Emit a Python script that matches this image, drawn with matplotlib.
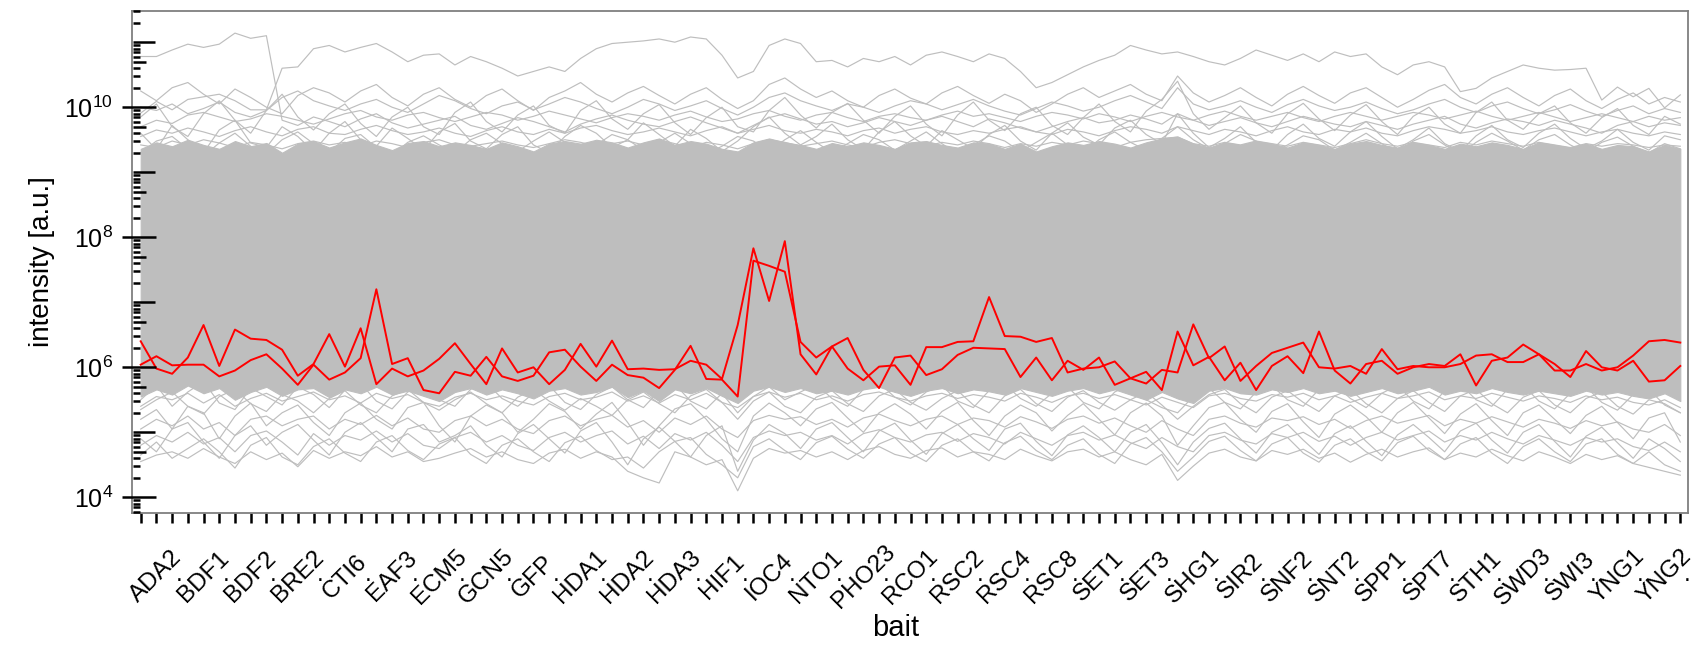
import matplotlib
matplotlib.use("Agg")
import matplotlib.pyplot as plt
import numpy as np

plt.rcParams["font.family"] = ["Liberation Sans", "DejaVu Sans"]
plt.rcParams["mathtext.fontset"] = "custom"
plt.rcParams["mathtext.rm"] = "Liberation Sans"

# bait names, one per group of three replicate columns
baits = ["ADA2", "BDF1", "BDF2", "BRE2", "CTI6", "EAF3", "ECM5", "GCN5", "GFP",
         "HDA1", "HDA2", "HDA3", "HIF1", "IOC4", "NTO1", "PHO23", "RCO1",
         "RSC2", "RSC4", "RSC8", "SET1", "SET3", "SHG1", "SIR2", "SNF2",
         "SNT2", "SPP1", "SPT7", "STH1", "SWD3", "SWI3", "YNG1", "YNG2"]

# all values are log10(intensity), one per bait column (99 columns)
red_a_log = [
    6.40, 5.98, 5.90, 6.15, 6.65, 6.02, 6.58, 6.44, 6.42, 6.27, 5.87,
    6.05, 6.51, 6.01, 6.60, 5.74, 5.98, 5.86, 5.95, 6.13, 6.37, 6.05,
    5.74, 6.29, 5.92, 6.00, 5.74, 5.96, 6.36, 6.01, 6.41, 5.97, 5.98,
    5.96, 5.97, 6.10, 6.04, 5.82, 6.65, 7.83, 7.02, 7.94, 6.20, 5.89,
    6.32, 5.98, 5.80, 6.01, 6.03, 5.73, 6.31, 6.31, 6.39, 6.40, 7.08,
    6.48, 6.47, 6.39, 6.45, 5.92, 5.98, 6.00, 6.09, 5.83, 5.93, 5.65,
    6.55, 6.03, 6.16, 5.80, 6.07, 5.65, 6.02, 6.17, 5.91, 6.55, 5.95,
    5.75, 6.05, 6.10, 5.90, 6.00, 6.05, 6.02, 6.20, 5.72, 6.10, 6.15,
    6.35, 6.20, 6.05, 5.85, 6.25, 6.00, 5.95, 6.10, 5.78, 5.80, 6.02]
red_b_log = [
    6.04, 6.17, 6.03, 6.04, 6.04, 5.86, 5.95, 6.11, 6.20, 5.98, 5.73,
    6.04, 5.81, 5.92, 6.14, 7.20, 6.05, 6.14, 5.65, 5.60, 5.93, 5.87,
    6.16, 5.86, 5.79, 5.87, 6.23, 6.27, 6.01, 5.79, 6.04, 5.88, 5.84,
    5.68, 5.96, 6.33, 5.82, 5.81, 5.55, 7.64, 7.56, 7.47, 6.39, 6.15,
    6.32, 6.45, 5.96, 5.68, 6.15, 6.18, 5.88, 5.97, 6.19, 6.30, 6.29,
    6.28, 5.85, 6.15, 5.80, 6.10, 5.96, 6.15, 5.73, 5.83, 5.75, 5.96,
    5.92, 6.66, 6.14, 6.32, 5.79, 6.02, 6.22, 6.30, 6.38, 6.00, 5.98,
    6.02, 5.90, 6.28, 5.97, 6.02, 6.00, 6.00, 6.05, 6.18, 6.20, 6.08,
    6.08, 6.20, 5.95, 5.95, 6.05, 5.95, 6.00, 6.18, 6.40, 6.42, 6.38]

# envelope of the densely packed bulk of proteins
bulk_hi_log = [
    9.36, 9.46, 9.40, 9.50, 9.42, 9.36, 9.48, 9.40, 9.45, 9.30, 9.44,
    9.48, 9.38, 9.46, 9.52, 9.42, 9.34, 9.45, 9.48, 9.40, 9.46, 9.42,
    9.36, 9.46, 9.40, 9.32, 9.44, 9.48, 9.44, 9.50, 9.46, 9.38, 9.46,
    9.52, 9.42, 9.48, 9.44, 9.36, 9.32, 9.46, 9.52, 9.46, 9.42, 9.36,
    9.45, 9.40, 9.46, 9.42, 9.36, 9.46, 9.48, 9.42, 9.38, 9.46, 9.44,
    9.36, 9.44, 9.32, 9.40, 9.46, 9.42, 9.48, 9.44, 9.38, 9.46, 9.52,
    9.55, 9.44, 9.38, 9.46, 9.42, 9.48, 9.44, 9.38, 9.46, 9.42, 9.36,
    9.44, 9.48, 9.42, 9.38, 9.46, 9.42, 9.36, 9.44, 9.40, 9.46, 9.42,
    9.36, 9.46, 9.42, 9.38, 9.44, 9.36, 9.42, 9.40, 9.32, 9.42, 9.36]
bulk_lo_log = [
    5.55, 5.66, 5.58, 5.72, 5.60, 5.68, 5.50, 5.62, 5.70, 5.56, 5.66,
    5.68, 5.54, 5.66, 5.60, 5.70, 5.58, 5.64, 5.56, 5.48, 5.62, 5.68,
    5.58, 5.66, 5.60, 5.52, 5.64, 5.68, 5.58, 5.62, 5.70, 5.54, 5.64,
    5.48, 5.66, 5.60, 5.68, 5.56, 5.45, 5.64, 5.70, 5.62, 5.68, 5.60,
    5.64, 5.58, 5.66, 5.70, 5.62, 5.56, 5.64, 5.68, 5.60, 5.66, 5.63,
    5.58, 5.68, 5.62, 5.56, 5.64, 5.68, 5.60, 5.66, 5.58, 5.50, 5.62,
    5.52, 5.45, 5.64, 5.68, 5.60, 5.58, 5.66, 5.62, 5.68, 5.60, 5.64,
    5.56, 5.62, 5.68, 5.60, 5.64, 5.70, 5.58, 5.64, 5.60, 5.68, 5.62,
    5.58, 5.64, 5.60, 5.56, 5.64, 5.58, 5.62, 5.56, 5.52, 5.60, 5.48]

# individual proteins above the bulk
top_a_log = [
    10.78, 10.78, 10.88, 10.97, 10.92, 10.97, 11.14, 11.06, 11.10, 9.80, 9.72,
    9.85, 9.78, 9.70, 9.82, 9.90, 9.76, 9.68, 9.74, 9.80, 9.86, 9.72,
    9.66, 9.75, 9.84, 9.78, 9.70, 9.62, 9.74, 9.82, 9.88, 9.80, 9.74,
    9.70, 9.78, 9.85, 9.76, 9.68, 9.60, 9.72, 9.84, 9.90, 9.82, 9.74,
    9.78, 9.70, 9.76, 9.84, 9.78, 9.72, 9.80, 9.86, 9.78, 9.70, 9.82,
    9.76, 9.68, 9.62, 9.70, 9.78, 9.84, 9.76, 9.80, 9.88, 9.82, 9.74,
    9.90, 9.80, 9.72, 9.78, 9.84, 9.76, 9.70, 9.78, 9.86, 9.80, 9.74,
    9.70, 9.78, 9.72, 9.66, 9.74, 9.80, 9.86, 9.74, 9.68, 9.76, 9.82,
    9.78, 9.72, 9.80, 9.74, 9.68, 9.60, 9.72, 9.78, 9.70, 9.76, 9.72]
top_b_log = [
    9.91, 10.09, 9.96, 10.12, 10.16, 10.20, 10.10, 9.96, 9.96, 10.60, 10.62,
    10.90, 10.95, 10.85, 10.92, 10.98, 10.85, 10.70, 10.80, 10.82, 10.65, 10.78,
    10.70, 10.60, 10.48, 10.55, 10.62, 10.55, 10.75, 10.90, 10.98, 11.00, 11.02,
    11.05, 11.00, 11.08, 11.05, 10.80, 10.45, 10.55, 10.95, 11.05, 10.98, 10.70,
    10.72, 10.62, 10.75, 10.70, 10.78, 10.65, 10.80, 10.85, 10.78, 10.70, 10.82,
    10.75, 10.55, 10.30, 10.38, 10.50, 10.62, 10.72, 10.80, 10.95, 10.88, 10.82,
    10.85, 10.78, 10.70, 10.65, 10.75, 10.88, 10.80, 10.72, 10.82, 10.70, 10.85,
    10.78, 10.82, 10.62, 10.50, 10.65, 10.70, 10.62, 10.24, 10.29, 10.45, 10.55,
    10.65, 10.60, 10.57, 10.58, 10.60, 10.11, 10.31, 10.16, 10.29, 9.99, 10.19]
high_1_log = [
    10.00, 9.95, 10.05, 9.90, 9.98, 10.08, 9.92, 9.85, 9.95, 10.15, 10.25,
    10.10, 10.02, 9.95, 10.05, 10.12, 10.00, 9.92, 10.05, 10.18, 10.10, 9.98,
    9.90, 10.02, 10.08, 9.96, 10.05, 10.15, 10.08, 9.98, 9.90, 10.00, 10.12,
    10.05, 9.95, 10.02, 10.10, 9.98, 9.88, 10.00, 10.15, 10.22, 10.10, 10.02,
    9.95, 10.05, 10.00, 9.92, 10.02, 10.10, 10.05, 9.96, 10.04, 10.12, 10.02,
    9.94, 9.88, 9.98, 10.08, 10.02, 9.94, 10.00, 10.10, 10.18, 10.08, 9.98,
    10.30, 10.05, 9.96, 10.02, 10.10, 10.00, 9.92, 10.04, 10.12, 10.02, 9.95,
    10.00, 10.08, 9.98, 9.90, 9.96, 10.05, 10.12, 10.00, 9.92, 10.02, 10.08,
    9.98, 9.90, 9.96, 10.04, 9.94, 9.86, 9.95, 10.02, 9.90, 9.98, 9.92]
high_2_log = [
    9.70, 9.80, 9.75, 9.88, 9.92, 9.85, 9.78, 9.82, 9.90, 9.86, 9.80,
    9.74, 9.82, 9.90, 9.95, 9.85, 9.80, 9.88, 9.92, 9.84, 9.78, 9.85,
    9.92, 9.88, 9.80, 9.86, 9.94, 9.88, 9.82, 9.76, 9.84, 9.90, 9.86,
    9.80, 9.88, 9.94, 9.85, 9.78, 9.82, 9.90, 9.95, 9.86, 9.80, 9.88,
    9.92, 9.84, 9.78, 9.86, 9.90, 9.84, 9.80, 9.88, 9.94, 9.86, 9.90,
    9.84, 9.78, 9.86, 9.92, 9.88, 9.82, 9.90, 9.85, 9.78, 9.86, 9.92,
    9.85, 9.80, 9.88, 9.94, 9.86, 9.80, 9.86, 9.92, 9.84, 9.78, 9.86,
    9.92, 9.86, 9.80, 9.86, 9.92, 9.88, 9.82, 9.88, 9.94, 9.86, 9.80,
    9.86, 9.92, 9.85, 9.78, 9.84, 9.90, 9.84, 9.78, 9.86, 9.80, 9.84]
high_3_log = [
    9.55, 9.65, 9.60, 9.68, 9.62, 9.55, 9.64, 9.70, 9.62, 9.56, 9.66,
    9.70, 9.60, 9.58, 9.66, 9.72, 9.64, 9.58, 9.62, 9.68, 9.60, 9.55,
    9.64, 9.70, 9.62, 9.58, 9.66, 9.60, 9.68, 9.72, 9.64, 9.58, 9.62,
    9.68, 9.62, 9.56, 9.64, 9.70, 9.60, 9.66, 9.72, 9.64, 9.60, 9.66,
    9.62, 9.56, 9.64, 9.68, 9.60, 9.66, 9.70, 9.62, 9.58, 9.64, 9.60,
    9.66, 9.70, 9.62, 9.58, 9.66, 9.62, 9.56, 9.64, 9.70, 9.66, 9.60,
    9.70, 9.64, 9.58, 9.66, 9.62, 9.56, 9.64, 9.70, 9.62, 9.58, 9.66,
    9.62, 9.68, 9.60, 9.56, 9.64, 9.70, 9.66, 9.60, 9.64, 9.70, 9.62,
    9.58, 9.64, 9.68, 9.62, 9.56, 9.62, 9.66, 9.60, 9.56, 9.62, 9.58]
high_4_log = [
    9.42, 9.38, 9.48, 9.42, 9.50, 9.45, 9.38, 9.46, 9.42, 9.36, 9.44,
    9.48, 9.42, 9.46, 9.40, 9.48, 9.44, 9.38, 9.46, 9.50, 9.42, 9.40,
    9.44, 9.48, 9.42, 9.38, 9.44, 9.50, 9.46, 9.40, 9.44, 9.48, 9.42,
    9.50, 9.44, 9.38, 9.46, 9.42, 9.36, 9.44, 9.50, 9.46, 9.40, 9.44,
    9.48, 9.42, 9.38, 9.46, 9.50, 9.44, 9.40, 9.46, 9.42, 9.48, 9.44,
    9.38, 9.44, 9.40, 9.46, 9.42, 9.48, 9.44, 9.38, 9.46, 9.50, 9.52,
    9.54, 9.44, 9.40, 9.46, 9.42, 9.48, 9.44, 9.40, 9.46, 9.42, 9.38,
    9.44, 9.50, 9.44, 9.40, 9.46, 9.42, 9.38, 9.46, 9.42, 9.48, 9.44,
    9.40, 9.46, 9.42, 9.38, 9.44, 9.40, 9.44, 9.42, 9.38, 9.42, 9.40]
high_5_log = [
    9.60, 9.35, 9.72, 9.50, 9.30, 9.65, 9.80, 9.45, 9.38, 9.70, 9.55,
    9.32, 9.60, 9.78, 9.50, 9.40, 9.68, 9.52, 9.34, 9.62, 9.75, 9.48,
    9.36, 9.58, 9.70, 9.42, 9.30, 9.55, 9.72, 9.60, 9.38, 9.50, 9.76,
    9.58, 9.40, 9.66, 9.52, 9.32, 9.48, 9.70, 9.85, 9.60, 9.42, 9.55,
    9.74, 9.50, 9.35, 9.62, 9.78, 9.56, 9.40, 9.64, 9.50, 9.36, 9.58,
    9.72, 9.48, 9.34, 9.60, 9.76, 9.54, 9.42, 9.68, 9.80, 9.58, 9.44,
    9.90, 9.60, 9.38, 9.52, 9.70, 9.46, 9.34, 9.58, 9.74, 9.52, 9.40,
    9.62, 9.78, 9.55, 9.36, 9.50, 9.68, 9.44, 9.32, 9.56, 9.72, 9.50,
    9.38, 9.60, 9.74, 9.52, 9.36, 9.48, 9.66, 9.46, 9.34, 9.56, 9.50]
high_6_log = [
    9.85, 10.05, 9.70, 9.55, 9.90, 10.10, 9.80, 9.60, 9.95, 10.20, 9.85,
    9.65, 9.90, 10.05, 9.75, 9.55, 9.85, 10.00, 9.70, 9.58, 9.92, 10.08,
    9.78, 9.62, 9.88, 10.02, 9.72, 9.60, 9.95, 10.10, 9.82, 9.66, 9.90,
    10.04, 9.76, 9.58, 9.84, 10.00, 9.70, 9.62, 9.95, 10.15, 9.88, 9.68,
    9.92, 10.06, 9.80, 9.60, 9.86, 10.02, 9.74, 9.56, 9.88, 10.08, 9.80,
    9.64, 9.90, 10.00, 9.72, 9.58, 9.84, 10.05, 9.78, 9.62, 9.94, 10.12,
    10.40, 9.90, 9.66, 9.84, 10.02, 9.76, 9.60, 9.90, 10.06, 9.82, 9.64,
    9.88, 10.04, 9.78, 9.58, 9.86, 10.00, 9.74, 9.60, 9.92, 10.08, 9.80,
    9.66, 9.90, 10.02, 9.76, 9.60, 9.84, 9.98, 9.72, 9.58, 9.86, 9.74]
high_7_log = [
    9.30, 9.48, 9.55, 9.36, 9.25, 9.45, 9.60, 9.40, 9.28, 9.50, 9.62,
    9.44, 9.30, 9.52, 9.58, 9.38, 9.26, 9.46, 9.56, 9.42, 9.30, 9.50,
    9.60, 9.44, 9.32, 9.48, 9.62, 9.46, 9.30, 9.42, 9.58, 9.50, 9.34,
    9.46, 9.60, 9.44, 9.28, 9.40, 9.55, 9.48, 9.32, 9.50, 9.64, 9.46,
    9.30, 9.44, 9.58, 9.50, 9.34, 9.48, 9.62, 9.44, 9.28, 9.42, 9.56,
    9.48, 9.32, 9.46, 9.60, 9.42, 9.30, 9.50, 9.62, 9.46, 9.34, 9.52,
    9.70, 9.50, 9.36, 9.44, 9.58, 9.48, 9.30, 9.42, 9.56, 9.50, 9.34,
    9.46, 9.60, 9.44, 9.30, 9.48, 9.58, 9.42, 9.28, 9.46, 9.60, 9.48,
    9.34, 9.50, 9.58, 9.42, 9.30, 9.46, 9.54, 9.40, 9.30, 9.44, 9.36]
high_8_log = [
    10.25, 10.10, 10.30, 10.38, 10.20, 10.05, 10.28, 10.15, 10.00, 9.90, 10.18,
    10.30, 10.22, 10.08, 10.25, 10.35, 10.15, 10.02, 10.20, 10.30, 10.12, 10.00,
    10.18, 10.28, 10.10, 9.95, 10.15, 10.25, 10.38, 10.20, 10.08, 10.22, 10.32,
    10.18, 10.05, 10.20, 10.30, 10.12, 9.98, 10.10, 10.35, 10.45, 10.28, 10.15,
    10.25, 10.10, 10.00, 10.18, 10.28, 10.14, 10.05, 10.22, 10.32, 10.18, 10.06,
    10.20, 10.10, 9.92, 10.05, 10.20, 10.30, 10.15, 10.25, 10.35, 10.20, 10.10,
    10.48, 10.22, 10.08, 10.18, 10.30, 10.15, 10.02, 10.20, 10.32, 10.18, 10.06,
    10.22, 10.30, 10.15, 10.00, 10.12, 10.26, 10.35, 10.15, 10.05, 10.20, 10.30,
    10.15, 10.02, 10.18, 10.28, 10.10, 9.98, 10.12, 10.22, 10.05, 10.15, 10.08]

# individual proteins below the bulk
low_1_log = [
    5.40, 5.55, 5.50, 5.60, 5.45, 5.58, 5.40, 5.52, 5.60, 5.48, 5.55,
    5.62, 5.50, 5.56, 5.45, 5.60, 5.52, 5.58, 5.46, 5.40, 5.54, 5.60,
    5.50, 5.56, 5.48, 5.42, 5.55, 5.60, 5.50, 5.54, 5.62, 5.48, 5.56,
    5.45, 5.58, 5.50, 5.60, 5.46, 5.38, 5.55, 5.62, 5.54, 5.60, 5.50,
    5.56, 5.48, 5.58, 5.62, 5.54, 5.48, 5.56, 5.60, 5.52, 5.58, 5.54,
    5.48, 5.60, 5.54, 5.46, 5.56, 5.60, 5.52, 5.58, 5.50, 5.42, 5.54,
    5.46, 5.38, 5.56, 5.60, 5.52, 5.48, 5.58, 5.54, 5.60, 5.50, 5.56,
    5.46, 5.54, 5.60, 5.52, 5.56, 5.62, 5.50, 5.56, 5.52, 5.60, 5.54,
    5.48, 5.56, 5.52, 5.46, 5.56, 5.50, 5.54, 5.46, 5.42, 5.50, 5.38]
low_2_log = [
    5.05, 5.20, 5.10, 5.25, 5.05, 5.15, 4.95, 5.20, 5.25, 5.10, 5.20,
    5.25, 5.05, 5.20, 5.12, 5.26, 5.10, 5.22, 5.05, 5.00, 5.18, 5.25,
    5.10, 5.20, 5.05, 4.98, 5.18, 5.25, 5.10, 5.20, 5.26, 5.08, 5.18,
    5.00, 5.22, 5.12, 5.25, 5.05, 4.92, 5.18, 5.26, 5.20, 5.24, 5.12,
    5.20, 5.08, 5.22, 5.28, 5.18, 5.10, 5.20, 5.25, 5.12, 5.22, 5.18,
    5.08, 5.24, 5.16, 5.06, 5.20, 5.25, 5.14, 5.22, 5.10, 5.00, 5.18,
    5.05, 4.95, 5.20, 5.25, 5.14, 5.08, 5.22, 5.18, 5.24, 5.12, 5.20,
    5.06, 5.18, 5.25, 5.14, 5.20, 5.26, 5.10, 5.20, 5.14, 5.24, 5.16,
    5.08, 5.20, 5.14, 5.06, 5.18, 5.10, 5.16, 5.05, 5.00, 5.12, 4.95]
low_3_log = [
    4.80, 4.95, 4.85, 5.00, 4.82, 4.92, 4.70, 4.95, 5.02, 4.85, 4.65,
    4.98, 4.80, 4.95, 4.88, 5.02, 4.85, 4.98, 4.80, 4.75, 4.92, 5.00,
    4.85, 4.95, 4.80, 4.72, 4.92, 5.00, 4.85, 4.95, 5.02, 4.82, 4.94,
    4.75, 4.98, 4.88, 5.00, 4.80, 4.55, 4.92, 5.02, 4.95, 5.00, 4.88,
    4.95, 4.82, 4.98, 5.04, 4.92, 4.85, 4.96, 5.00, 4.86, 4.98, 4.92,
    4.82, 5.00, 4.90, 4.80, 4.95, 5.00, 4.88, 4.96, 4.84, 4.75, 4.92,
    4.78, 4.70, 4.95, 5.00, 4.88, 4.82, 4.98, 4.92, 5.00, 4.86, 4.94,
    4.80, 4.92, 5.00, 4.88, 4.95, 5.02, 4.85, 4.95, 4.88, 5.00, 4.90,
    4.82, 4.95, 4.88, 4.80, 4.92, 4.85, 4.90, 4.78, 4.72, 4.85, 4.70]
low_4_log = [
    4.55, 4.65, 4.70, 4.60, 4.75, 4.62, 4.52, 4.70, 4.58, 4.68, 4.47,
    4.72, 4.60, 4.70, 4.64, 4.78, 4.62, 4.70, 4.55, 4.60, 4.68, 4.75,
    4.62, 4.70, 4.58, 4.52, 4.68, 4.74, 4.60, 4.70, 4.62, 4.40, 4.30,
    4.22, 4.70, 4.62, 4.50, 4.58, 4.10, 4.60, 4.75, 4.68, 4.72, 4.62,
    4.70, 4.58, 4.72, 4.78, 4.66, 4.60, 4.72, 4.76, 4.62, 4.70, 4.66,
    4.58, 4.74, 4.64, 4.56, 4.70, 4.74, 4.62, 4.70, 4.58, 4.50, 4.66,
    4.26, 4.48, 4.68, 4.74, 4.62, 4.56, 4.72, 4.66, 4.74, 4.60, 4.68,
    4.54, 4.66, 4.74, 4.62, 4.70, 4.76, 4.58, 4.68, 4.62, 4.74, 4.64,
    4.56, 4.70, 4.62, 4.52, 4.66, 4.58, 4.64, 4.52, 4.46, 4.40, 4.34]
low_5_log = [
    5.50, 5.72, 5.40, 5.62, 5.78, 5.45, 5.35, 5.68, 5.55, 5.42, 5.70,
    5.58, 5.38, 5.65, 5.75, 5.48, 5.36, 5.62, 5.72, 5.50, 5.40, 5.66,
    5.76, 5.52, 5.40, 5.60, 5.72, 5.46, 5.35, 5.58, 5.70, 5.50, 5.38,
    5.64, 5.74, 5.48, 5.36, 5.60, 5.30, 5.55, 5.70, 5.50, 5.62, 5.74,
    5.52, 5.40, 5.66, 5.76, 5.54, 5.42, 5.62, 5.72, 5.48, 5.38, 5.64,
    5.74, 5.52, 5.40, 5.60, 5.70, 5.46, 5.36, 5.62, 5.74, 5.50, 5.38,
    5.30, 5.55, 5.68, 5.46, 5.36, 5.62, 5.72, 5.50, 5.40, 5.66, 5.74,
    5.52, 5.38, 5.60, 5.72, 5.48, 5.36, 5.64, 5.74, 5.50, 5.40, 5.66,
    5.72, 5.48, 5.36, 5.60, 5.70, 5.46, 5.34, 5.58, 5.66, 5.42, 5.30]
low_6_log = [
    5.20, 5.35, 5.05, 5.40, 5.30, 4.90, 5.25, 5.45, 5.10, 5.30, 5.42,
    5.15, 4.95, 5.30, 5.45, 5.20, 5.05, 5.38, 5.46, 5.10, 4.85, 5.25,
    5.42, 5.30, 5.00, 5.20, 5.44, 5.32, 5.05, 5.28, 5.46, 5.15, 4.80,
    5.10, 5.36, 5.44, 5.20, 4.90, 4.70, 5.25, 5.45, 5.30, 5.10, 5.36,
    5.46, 5.22, 5.00, 5.30, 5.44, 5.28, 5.05, 5.32, 5.46, 5.18, 4.95,
    5.25, 5.42, 5.30, 5.02, 5.26, 5.44, 5.20, 4.96, 5.30, 5.45, 5.25,
    4.80, 5.10, 5.38, 5.46, 5.20, 5.00, 5.32, 5.44, 5.16, 4.92, 5.28,
    5.42, 5.24, 5.00, 5.30, 5.46, 5.22, 4.98, 5.28, 5.44, 5.18, 4.95,
    5.30, 5.42, 5.20, 4.98, 5.26, 5.40, 5.15, 4.90, 5.22, 5.30, 4.85]
low_7_log = [
    4.90, 4.70, 5.05, 5.15, 4.85, 4.60, 4.95, 5.10, 4.80, 5.00, 5.12,
    4.88, 4.65, 5.00, 5.15, 4.92, 4.70, 5.05, 5.12, 4.85, 4.95, 5.10,
    4.80, 4.62, 4.98, 5.12, 4.90, 4.68, 5.02, 5.15, 4.85, 4.50, 4.90,
    5.08, 4.86, 4.62, 4.95, 5.10, 4.40, 4.88, 5.12, 4.98, 4.75, 5.05,
    5.15, 4.92, 4.70, 5.02, 5.14, 4.88, 4.66, 4.98, 5.12, 4.90, 4.72,
    5.05, 5.14, 4.86, 4.64, 4.96, 5.10, 4.92, 4.70, 5.00, 5.12, 4.84,
    4.50, 4.85, 5.06, 5.14, 4.90, 4.68, 5.00, 5.12, 4.88, 4.66, 4.98,
    5.10, 4.86, 4.64, 4.96, 5.12, 4.92, 4.70, 5.02, 5.14, 4.88, 4.68,
    5.00, 5.12, 4.86, 4.62, 4.94, 5.08, 4.84, 4.60, 4.90, 4.75, 4.55]
low_8_log = [
    4.65, 4.85, 4.60, 4.75, 4.90, 4.70, 4.45, 4.80, 4.92, 4.62, 4.50,
    4.78, 4.90, 4.68, 4.55, 4.85, 4.95, 4.72, 4.58, 4.82, 4.92, 4.66,
    4.52, 4.80, 4.90, 4.70, 4.55, 4.84, 4.94, 4.72, 4.58, 4.62, 4.45,
    4.70, 4.86, 4.92, 4.66, 4.50, 4.30, 4.78, 4.90, 4.72, 4.58, 4.84,
    4.94, 4.74, 4.60, 4.82, 4.92, 4.68, 4.55, 4.80, 4.90, 4.70, 4.56,
    4.84, 4.94, 4.72, 4.58, 4.80, 4.90, 4.66, 4.52, 4.82, 4.92, 4.70,
    4.40, 4.62, 4.86, 4.94, 4.72, 4.56, 4.82, 4.92, 4.68, 4.54, 4.80,
    4.90, 4.70, 4.56, 4.84, 4.94, 4.72, 4.58, 4.82, 4.92, 4.68, 4.52,
    4.78, 4.90, 4.70, 4.55, 4.82, 4.90, 4.66, 4.52, 4.70, 4.50, 4.40]
low_9_log = [
    5.35, 5.50, 5.62, 5.40, 5.28, 5.55, 5.66, 5.44, 5.32, 5.58, 5.48,
    5.30, 5.52, 5.64, 5.42, 5.30, 5.56, 5.66, 5.46, 5.34, 5.50, 5.62,
    5.44, 5.30, 5.54, 5.66, 5.48, 5.34, 5.52, 5.40, 5.26, 5.50, 5.62,
    5.44, 5.30, 5.56, 5.66, 5.46, 5.20, 5.48, 5.62, 5.40, 5.30, 5.54,
    5.64, 5.44, 5.32, 5.56, 5.66, 5.46, 5.34, 5.52, 5.64, 5.42, 5.30,
    5.56, 5.66, 5.44, 5.32, 5.54, 5.64, 5.46, 5.34, 5.50, 5.62, 5.42,
    5.20, 5.40, 5.58, 5.66, 5.44, 5.30, 5.54, 5.64, 5.46, 5.32, 5.56,
    5.66, 5.44, 5.30, 5.52, 5.64, 5.46, 5.32, 5.56, 5.66, 5.44, 5.30,
    5.54, 5.64, 5.42, 5.30, 5.52, 5.62, 5.40, 5.28, 5.50, 5.44, 5.30]

GRAY = "#bebebe"
RED = "#ff0000"
W, H = 1702, 650
AX_L, AX_R, AX_T, AX_B = 132, 1688, 11, 513.3   # pixel box of the plot region

fig = plt.figure(figsize=(W / 100, H / 100), dpi=100)
ax = fig.add_axes([AX_L / W, 1 - AX_B / H, (AX_R - AX_L) / W, (AX_B - AX_T) / H])
ax_wpx = AX_R - AX_L
ax_hpx = AX_B - AX_T

n = len(red_a_log)
x = np.arange(n)


def lin(v):
    return 10.0 ** np.asarray(v)


gray_lines = [top_a_log, top_b_log, high_1_log, high_2_log, high_3_log,
              high_4_log, high_5_log, high_6_log, high_7_log, high_8_log,
              low_1_log, low_2_log, low_3_log, low_4_log, low_5_log,
              low_6_log, low_7_log, low_8_log, low_9_log]

ax.fill_between(x, lin(bulk_lo_log), lin(bulk_hi_log), color=GRAY, lw=0.8,
                edgecolor=GRAY, zorder=1)
for series in gray_lines:
    ax.plot(x, lin(series), color=GRAY, lw=0.85, zorder=2)
for series in [red_a_log, red_b_log]:
    ax.plot(x, lin(series), color=RED, lw=1.4, zorder=3)

ax.set_yscale("log")
ax.set_xlim(-0.554, n - 1 + 0.49)
ax.set_ylim(10 ** 3.754, 10 ** 11.48)

for side in ["left", "right", "top", "bottom"]:
    ax.spines[side].set_color("#7f7f7f")
    ax.spines[side].set_linewidth(1.3)

# x ticks: one per column, labels on the middle column of each bait
ax.set_xticks(x)
ax.set_xticklabels([])
ax.tick_params(axis="x", direction="out", length=7.2, width=1.8, color="black")
for k, name in enumerate(baits):
    ax.text(3 * k + 1, -(576.7 - AX_B) / ax_hpx, name,
            transform=ax.get_xaxis_transform(), rotation=45,
            rotation_mode="anchor", ha="center", va="center", fontsize=17.5)
    ax.text(3 * k + 2.45, -(581 - AX_B) / ax_hpx, ".",
            transform=ax.get_xaxis_transform(), ha="center", va="baseline",
            fontsize=17.5)

# y axis: labels on even decades, tick marks drawn by hand
ax.yaxis.set_minor_locator(matplotlib.ticker.NullLocator())
ax.set_yticks([1e4, 1e6, 1e8, 1e10])
ax.set_yticklabels([r"$\mathregular{10^{4}}$", r"$\mathregular{10^{6}}$",
                    r"$\mathregular{10^{8}}$", r"$\mathregular{10^{10}}$"],
                   fontsize=18)
ax.tick_params(axis="y", length=0, pad=13.5)
ytr = ax.get_yaxis_transform()
for dec in range(3, 12):
    for m in range(1, 10):
        v = m * 10.0 ** dec
        if not (10 ** 3.754 <= v <= 10 ** 11.48):
            continue
        if m == 1 and dec % 2 == 0:
            x0, x1 = -11, 23
        elif m == 1:
            x0, x1 = 0, 22
        elif m == 5:
            x0, x1 = 0, 13
        else:
            x0, x1 = 0, 7
        ax.plot([(x0 + 1) / ax_wpx, (x1 + 1) / ax_wpx], [v, v], transform=ytr,
                color="black", lw=1.8, solid_capstyle="butt", clip_on=False,
                zorder=5)

fig.text(42 / W, 1 - 262 / H, "intensity [a.u.]", rotation=90, ha="center",
         va="center", fontsize=20)
fig.text(896 / W, 1 - 628 / H, "bait", ha="center", va="center", fontsize=21)

fig.savefig("out.png", dpi=100)
